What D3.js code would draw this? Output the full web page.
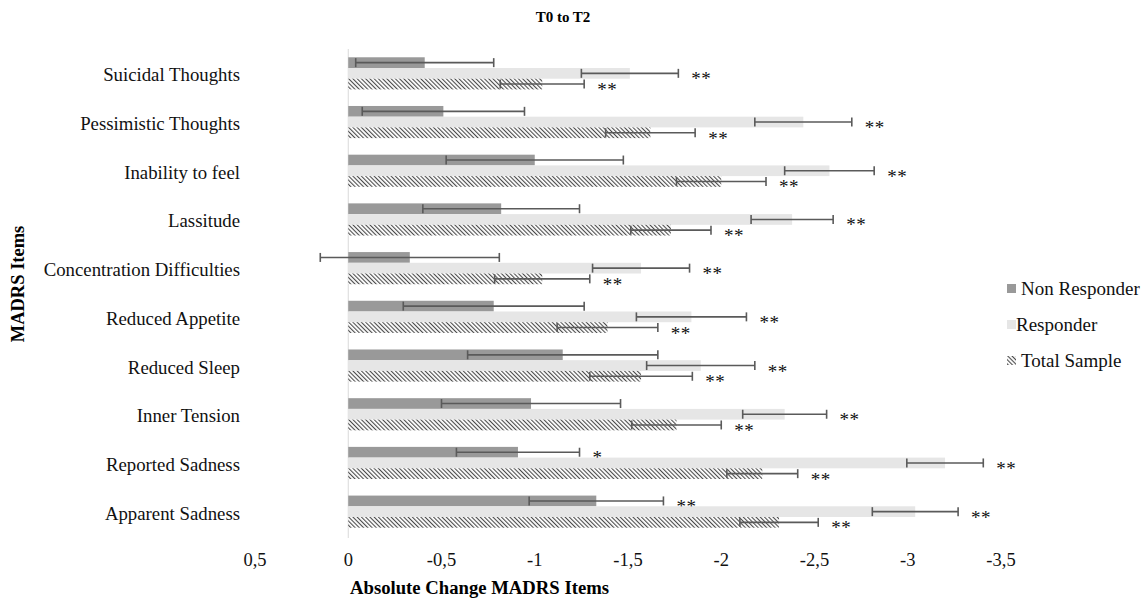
<!DOCTYPE html>
<html>
<head>
<meta charset="utf-8">
<script src="https://cdn.jsdelivr.net/npm/d3@7"></script>
<style>
  body { margin: 0; background: #fff; }
  svg text { font-family: "Liberation Serif", "Times New Roman", serif; }
</style>
</head>
<body>
<svg id="chart" width="1142" height="600"></svg>
<script>
// MADRS items, top to bottom
const categories = ["Suicidal Thoughts", "Pessimistic Thoughts", "Inability to feel", "Lassitude",
  "Concentration Difficulties", "Reduced Appetite", "Reduced Sleep", "Inner Tension",
  "Reported Sadness", "Apparent Sadness"];

const nonResponder    = [-0.41, -0.51, -1.00, -0.82, -0.33, -0.78, -1.15, -0.98, -0.91, -1.33];
const nonResponderErr = [0.37, 0.435, 0.475, 0.42, 0.48, 0.485, 0.51, 0.48, 0.33, 0.36];
const responder       = [-1.51, -2.44, -2.58, -2.38, -1.57, -1.84, -1.89, -2.34, -3.20, -3.04];
const responderErr    = [0.26, 0.26, 0.24, 0.22, 0.26, 0.295, 0.29, 0.225, 0.205, 0.23];
const totalSample     = [-1.04, -1.62, -2.00, -1.73, -1.04, -1.39, -1.57, -1.76, -2.22, -2.31];
const totalSampleErr  = [0.225, 0.24, 0.24, 0.215, 0.255, 0.27, 0.275, 0.24, 0.19, 0.21];

const nonResponderSig = ["", "", "", "", "", "", "", "", "*", "**"];
const responderSig    = ["**", "**", "**", "**", "**", "**", "**", "**", "**", "**"];
const totalSampleSig  = ["**", "**", "**", "**", "**", "**", "**", "**", "**", "**"];

const xTicks = [0.5, 0, -0.5, -1, -1.5, -2, -2.5, -3, -3.5];
const seriesNames = ["Non Responder", "Responder", "Total Sample"];

const svg = d3.select("#chart");

const defs = svg.append("defs");
const hatch = defs.append("pattern")
  .attr("id", "hatch")
  .attr("patternUnits", "userSpaceOnUse")
  .attr("width", 3).attr("height", 3)
  .attr("patternTransform", "rotate(-45)");
hatch.append("rect").attr("width", 3).attr("height", 3).attr("fill", "#fff");
hatch.append("line")
  .attr("x1", 0.5).attr("y1", 0).attr("x2", 0.5).attr("y2", 3)
  .attr("stroke", "#4a4a4a").attr("stroke-width", 1.2);

const fills = ["#999999", "#e6e6e6", "url(#hatch)"];

const x = d3.scaleLinear().domain([0.5, -3.5]).range([255, 1001]);
const y = d3.scaleBand().domain(categories).range([49, 536]).paddingInner(0.34).paddingOuter(0.17);
const ySub = d3.scaleBand().domain(seriesNames).range([0, y.bandwidth()]);

// rows built from the arrays
const rows = categories.map((c, i) => ({
  cat: c,
  bars: [
    {s: seriesNames[0], v: nonResponder[i], e: nonResponderErr[i], sig: nonResponderSig[i]},
    {s: seriesNames[1], v: responder[i], e: responderErr[i], sig: responderSig[i]},
    {s: seriesNames[2], v: totalSample[i], e: totalSampleErr[i], sig: totalSampleSig[i]}
  ]
}));

// zero line
svg.append("line")
  .attr("x1", x(0)).attr("x2", x(0))
  .attr("y1", 49).attr("y2", 538)
  .attr("stroke", "#d9d9d9").attr("stroke-width", 1);

const group = svg.selectAll("g.row")
  .data(rows)
  .join("g")
  .attr("class", "row")
  .attr("transform", d => `translate(0,${y(d.cat)})`);

const bar = group.selectAll("g.bar")
  .data(d => d.bars)
  .join("g")
  .attr("class", "bar")
  .attr("transform", d => `translate(0,${ySub(d.s)})`);

const bh = ySub.bandwidth();

bar.append("rect")
  .attr("x", d => Math.min(x(0), x(d.v)))
  .attr("width", d => Math.abs(x(d.v) - x(0)))
  .attr("y", 0)
  .attr("height", bh)
  .attr("fill", d => fills[seriesNames.indexOf(d.s)]);

const errColor = "#5a5a5a";
bar.append("line")
  .attr("x1", d => x(d.v + d.e)).attr("x2", d => x(d.v - d.e))
  .attr("y1", bh / 2).attr("y2", bh / 2)
  .attr("stroke", errColor).attr("stroke-width", 1.6);
bar.append("line")
  .attr("x1", d => x(d.v + d.e)).attr("x2", d => x(d.v + d.e))
  .attr("y1", bh / 2 - 4.5).attr("y2", bh / 2 + 4.5)
  .attr("stroke", errColor).attr("stroke-width", 1.6);
bar.append("line")
  .attr("x1", d => x(d.v - d.e)).attr("x2", d => x(d.v - d.e))
  .attr("y1", bh / 2 - 4.5).attr("y2", bh / 2 + 4.5)
  .attr("stroke", errColor).attr("stroke-width", 1.6);

bar.append("text")
  .attr("x", d => x(d.v - d.e) + 13)
  .attr("y", bh / 2 + 12)
  .attr("font-size", 19)
  .attr("letter-spacing", 0.5)
  .attr("fill", "#111")
  .text(d => d.sig);

// category labels
svg.selectAll("text.cat")
  .data(categories)
  .join("text")
  .attr("class", "cat")
  .attr("x", 240)
  .attr("y", d => y(d) + y.bandwidth() / 2 + 8)
  .attr("text-anchor", "end")
  .attr("font-size", 18.8)
  .attr("fill", "#111")
  .text(d => d);

// x tick labels
const fmt = v => String(v).replace(".", ",");
svg.selectAll("text.tick")
  .data(xTicks)
  .join("text")
  .attr("class", "tick")
  .attr("x", d => x(d))
  .attr("y", 566)
  .attr("text-anchor", "middle")
  .attr("font-size", 18.5)
  .attr("fill", "#111")
  .text(fmt);

// titles
svg.append("text")
  .attr("x", 563).attr("y", 22)
  .attr("text-anchor", "middle")
  .attr("font-size", 15).attr("font-weight", "bold")
  .text("T0 to T2");

svg.append("text")
  .attr("x", 350).attr("y", 594)
  .attr("font-size", 18.7).attr("font-weight", "bold")
  .text("Absolute Change MADRS Items");

svg.append("text")
  .attr("transform", "translate(24,284) rotate(-90)")
  .attr("text-anchor", "middle")
  .attr("font-size", 18.5).attr("font-weight", "bold")
  .text("MADRS Items");

// legend
const legend = svg.selectAll("g.legend")
  .data(seriesNames)
  .join("g")
  .attr("class", "legend")
  .attr("transform", (d, i) => `translate(1007,${284 + i * 36})`);
legend.append("rect")
  .attr("width", 9).attr("height", 9)
  .attr("fill", (d, i) => fills[i]);
legend.append("text")
  .attr("x", d => d === "Responder" ? 9 : 14)
  .attr("y", 11)
  .attr("font-size", 19)
  .attr("fill", "#111")
  .text(d => d);
</script>
</body>
</html>
